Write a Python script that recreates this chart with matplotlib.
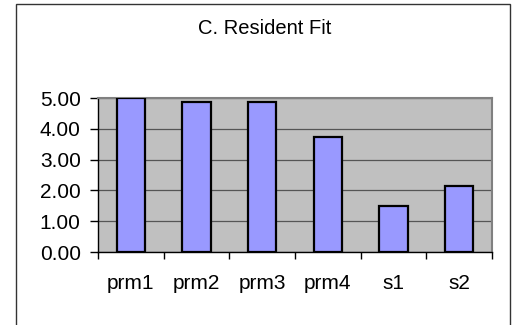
import matplotlib
matplotlib.use("Agg")
import matplotlib.pyplot as plt
from matplotlib.patches import Rectangle

categories = ["prm1", "prm2", "prm3", "prm4", "s1", "s2"]
values = [5.00, 4.88, 4.88, 3.75, 1.50, 2.14]
y_ticks = [0, 1, 2, 3, 4, 5]
y_tick_labels = ["0.00", "1.00", "2.00", "3.00", "4.00", "5.00"]
title = "C. Resident Fit"

plt.rcParams["font.family"] = ["Liberation Sans", "DejaVu Sans"]
W, H = 513, 325
fig = plt.figure(figsize=(W / 100, H / 100), dpi=100)
fig.patch.set_facecolor("white")

# chart-area frame
fig.patches.append(Rectangle((16 / W, -0.05), (510 - 16) / W, 1.05 - 4 / H,
                             transform=fig.transFigure, fill=False,
                             edgecolor="#333333", linewidth=1.0))

ax = fig.add_axes([98 / W, (H - 252) / H, (492 - 98) / W, (252 - 98) / H])
ax.set_facecolor("#C0C0C0")

x = list(range(len(categories)))
ax.bar(x, values, width=0.43, color="#9999FF", edgecolor="black",
       linewidth=1.6, zorder=3)

ax.set_xlim(-0.5, len(categories) - 0.5)
ax.set_ylim(0, 5)
ax.set_yticks(y_ticks)
ax.set_yticklabels(y_tick_labels)
ax.yaxis.grid(True, color="#555555", linewidth=0.9, zorder=1)
ax.set_axisbelow(True)

ax.set_xticks(x)
ax.set_xticklabels(categories)
ax.set_xticks([i - 0.5 for i in range(len(categories) + 1)], minor=True)
ax.tick_params(axis="x", which="major", length=0, pad=16, labelsize=15)
ax.tick_params(axis="x", which="minor", length=5, width=1, color="black",
               direction="out")
ax.tick_params(axis="y", length=6, width=1, color="black", pad=6.5,
               labelsize=15, direction="out")

for side in ("top", "right"):
    ax.spines[side].set_color("#808080")
    ax.spines[side].set_linewidth(1.5)
for side in ("left", "bottom"):
    ax.spines[side].set_color("black")
    ax.spines[side].set_linewidth(1.0)

fig.text(265 / W, 1 - 28 / H, title, ha="center", va="center", fontsize=14.5)

fig.savefig("out.png", dpi=100)
